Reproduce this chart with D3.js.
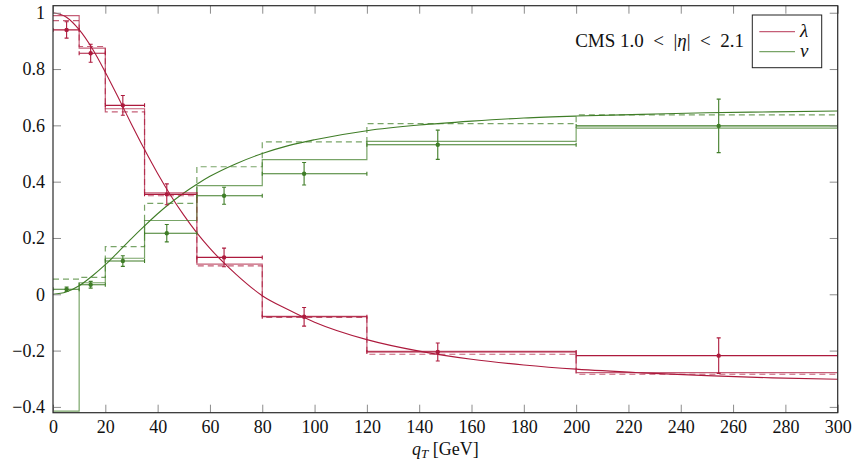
<!DOCTYPE html>
<html>
<head>
<meta charset="utf-8">
<script src="https://cdn.jsdelivr.net/npm/d3@7"></script>
<style>
  body { margin: 0; background: #fff; }
  svg, svg text { font-family: "Liberation Serif", "DejaVu Serif", serif; }
</style>
</head>
<body>
<div id="chart"></div>
<script>
// bins in qT and the measured points
const binEdges = [0, 10, 20, 35, 55, 80, 120, 200, 300];
const dataQt = [5.2, 14.4, 26.7, 43.5, 65.4, 96.0, 147.1, 254.5];

const lambdaData = [0.939, 0.856, 0.671, 0.355, 0.131, -0.080, -0.205, -0.218];
const lambdaErr = [0.029, 0.032, 0.035, 0.037, 0.033, 0.033, 0.032, 0.063];
const nuData = [0.018, 0.034, 0.118, 0.217, 0.350, 0.428, 0.531, 0.598];
const nuErr = [0.008, 0.012, 0.019, 0.031, 0.030, 0.040, 0.052, 0.095];

// histogram predictions (solid and dashed)
const lambdaStepSolid = [0.990, 0.874, 0.659, 0.360, 0.107, -0.078, -0.203, -0.278];
const lambdaStepDashed = [0.972, 0.880, 0.648, 0.350, 0.101, -0.082, -0.213, -0.284];
const nuStepSolid = [-0.415, 0.041, 0.128, 0.262, 0.386, 0.478, 0.543, 0.590];
const nuStepDashed = [0.054, 0.060, 0.169, 0.323, 0.453, 0.541, 0.606, 0.637];

// smooth curves
const curveQt = [0, 5, 10, 15, 20, 25, 30, 35, 40, 45, 50, 55, 60, 70, 80, 90, 100, 120, 140, 160, 180, 200, 225, 250, 275, 300];
const lambdaCurve = [1.0, 0.985, 0.94, 0.873, 0.789, 0.698, 0.604, 0.514, 0.429, 0.351, 0.281, 0.218, 0.163, 0.071, -0.005, -0.055, -0.099, -0.161, -0.202, -0.231, -0.251, -0.266, -0.279, -0.289, -0.297, -0.302];
const nuCurve = [0.0, 0.008, 0.030, 0.065, 0.105, 0.151, 0.198, 0.243, 0.286, 0.325, 0.360, 0.391, 0.419, 0.464, 0.500, 0.528, 0.549, 0.581, 0.601, 0.615, 0.626, 0.633, 0.639, 0.645, 0.648, 0.651];

const xTicks = [0, 20, 40, 60, 80, 100, 120, 140, 160, 180, 200, 220, 240, 260, 280, 300];
const yTicks = [-0.4, -0.2, 0, 0.2, 0.4, 0.6, 0.8, 1];
const yTickLabels = ["\u22120.4", "\u22120.2", "0", "0.2", "0.4", "0.6", "0.8", "1"];

const RED = "#ad1a3d";
const GREEN = "#3f7d27";
const FONT = "'Liberation Serif', 'DejaVu Serif', serif";

const width = 859;
const height = 471;
const margin = { top: 5.7, right: 21.3, bottom: 58.3, left: 53 };

const svg = d3.select("#chart")
  .append("svg")
  .attr("width", width)
  .attr("height", height);

const x = d3.scaleLinear()
  .domain([0, 300])
  .range([margin.left, width - margin.right]);

const y = d3.scaleLinear()
  .domain([-0.4206, 1.025])
  .range([height - margin.bottom, margin.top]);

svg.append("clipPath").attr("id", "plotclip")
  .append("rect")
  .attr("x", margin.left).attr("y", margin.top)
  .attr("width", x(300) - x(0))
  .attr("height", y(-0.4206) - y(1.025));

const plot = svg.append("g").attr("clip-path", "url(#plotclip)");

// smooth curves
const curveLine = d3.line()
  .x((d) => x(d[0]))
  .y((d) => y(d[1]))
  .curve(d3.curveMonotoneX);

plot.append("path")
  .attr("d", curveLine(curveQt.map((q, i) => [q, lambdaCurve[i]])))
  .attr("fill", "none").attr("stroke", RED).attr("stroke-width", 1.1);

plot.append("path")
  .attr("d", curveLine(curveQt.map((q, i) => [q, nuCurve[i]])))
  .attr("fill", "none").attr("stroke", GREEN).attr("stroke-width", 1.1);

// step histograms
const stepLine = d3.line()
  .x((d) => x(d[0]))
  .y((d) => y(d[1]))
  .curve(d3.curveStepAfter);

function stepPoints(vals) {
  const pts = vals.map((v, i) => [binEdges[i], v]);
  pts.push([binEdges[binEdges.length - 1], vals[vals.length - 1]]);
  return pts;
}

function drawStep(vals, color, dashed) {
  plot.append("path")
    .attr("d", stepLine(stepPoints(vals)))
    .attr("fill", "none")
    .attr("stroke", color)
    .attr("stroke-width", 1.2)
    .attr("stroke-opacity", 0.7)
    .attr("stroke-dasharray", dashed ? "6,4" : null);
}

drawStep(lambdaStepDashed, RED, true);
drawStep(nuStepDashed, GREEN, true);
drawStep(lambdaStepSolid, RED, false);
drawStep(nuStepSolid, GREEN, false);

// data points with error bars
function drawData(vals, errs, color) {
  const g = plot.append("g").attr("stroke", color).attr("fill", color).attr("stroke-width", 1.1);
  vals.forEach((v, i) => {
    const x0 = x(binEdges[i]), x1 = x(binEdges[i + 1]);
    const cx = x(dataQt[i]), cy = y(v);
    const yHi = y(v + errs[i]), yLo = y(v - errs[i]);
    g.append("line").attr("x1", x0).attr("x2", x1).attr("y1", cy).attr("y2", cy);
    g.append("line").attr("x1", x0).attr("x2", x0).attr("y1", cy - 2).attr("y2", cy + 2);
    g.append("line").attr("x1", x1).attr("x2", x1).attr("y1", cy - 2).attr("y2", cy + 2);
    g.append("line").attr("x1", cx).attr("x2", cx).attr("y1", yHi).attr("y2", yLo);
    g.append("line").attr("x1", cx - 2).attr("x2", cx + 2).attr("y1", yHi).attr("y2", yHi);
    g.append("line").attr("x1", cx - 2).attr("x2", cx + 2).attr("y1", yLo).attr("y2", yLo);
    g.append("circle").attr("cx", cx).attr("cy", cy).attr("r", 2.2).attr("stroke", "none");
  });
}

drawData(lambdaData, lambdaErr, RED);
drawData(nuData, nuErr, GREEN);

// axes with inward ticks on all four sides
function styleAxis(g) {
  g.attr("font-family", FONT).attr("font-size", 18);
  g.select(".domain").remove();
  g.selectAll(".tick line").attr("stroke", "#8c8c8c").attr("stroke-width", 1);
  g.selectAll(".tick text").attr("fill", "#111");
}

svg.append("g")
  .attr("transform", `translate(0,${y(-0.4206)})`)
  .call(d3.axisBottom(x).tickValues(xTicks).tickSizeInner(-8).tickSizeOuter(0).tickPadding(7.5))
  .call(styleAxis);

svg.append("g")
  .attr("transform", `translate(0,${y(1.025)})`)
  .call(d3.axisTop(x).tickValues(xTicks).tickSizeInner(-8).tickSizeOuter(0).tickFormat(""))
  .call(styleAxis);

svg.append("g")
  .attr("transform", `translate(${x(0)},0)`)
  .call(d3.axisLeft(y).tickValues(yTicks).tickSizeInner(-8).tickSizeOuter(0).tickPadding(8)
    .tickFormat((d, i) => yTickLabels[i]))
  .call(styleAxis);

svg.append("g")
  .attr("transform", `translate(${x(300)},0)`)
  .call(d3.axisRight(y).tickValues(yTicks).tickSizeInner(-8).tickSizeOuter(0).tickFormat(""))
  .call(styleAxis);

// frame
svg.append("rect")
  .attr("x", x(0)).attr("y", y(1.025))
  .attr("width", x(300) - x(0))
  .attr("height", y(-0.4206) - y(1.025))
  .attr("fill", "none")
  .attr("stroke", "#2b2b2b")
  .attr("stroke-width", 1.2);

// x axis label
const xl = svg.append("text")
  .attr("x", (x(0) + x(300)) / 2)
  .attr("y", 455)
  .attr("text-anchor", "middle")
  .attr("font-size", "18px")
  .attr("fill", "#111");
xl.append("tspan").attr("font-style", "italic").text("q");
xl.append("tspan").attr("font-style", "italic").attr("font-size", "13px").attr("dy", 3).text("T");
xl.append("tspan").attr("dy", -3).text(" [GeV]");

// annotation
const ann = svg.append("text")
  .attr("x", 744)
  .attr("y", 46.5)
  .attr("text-anchor", "end")
  .attr("font-size", "19px")
  .attr("fill", "#111");
ann.append("tspan").text("CMS 1.0\u2002<\u2002|");
ann.append("tspan").attr("font-style", "italic").text("η");
ann.append("tspan").text("|\u2002<\u20022.1");

// legend
const legend = svg.append("g");
legend.append("rect")
  .attr("x", 752.3).attr("y", 15)
  .attr("width", 69.4).attr("height", 52.7)
  .attr("fill", "#fff").attr("stroke", "#222").attr("stroke-width", 1);

[["λ", RED, 31.7], ["ν", GREEN, 51.7]].forEach(([label, color, ly]) => {
  legend.append("line")
    .attr("x1", 759.3).attr("x2", 795).attr("y1", ly).attr("y2", ly)
    .attr("stroke", color).attr("stroke-width", 1.2).attr("stroke-opacity", 0.7);
  legend.append("text")
    .attr("x", 800).attr("y", ly + 5.5)
    .attr("font-size", "19px").attr("font-style", "italic").attr("fill", "#111")
    .text(label);
});
</script>
</body>
</html>
